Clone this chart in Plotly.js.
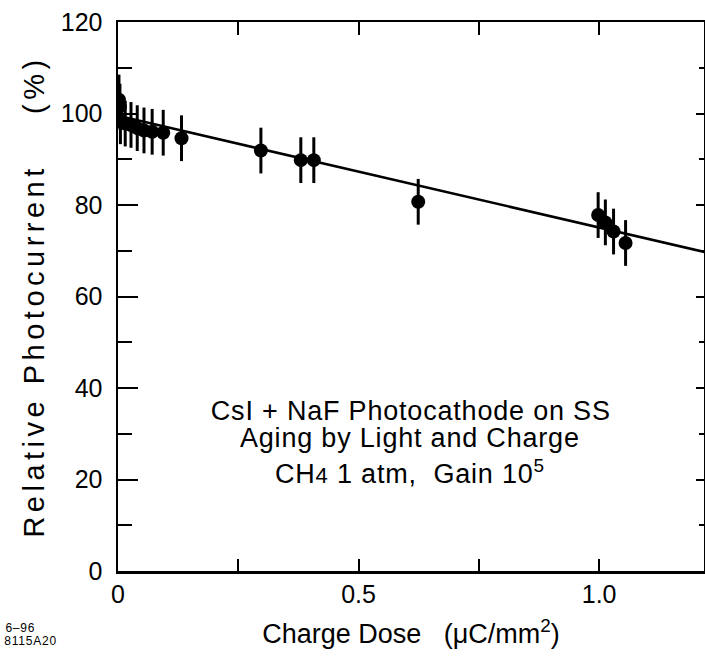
<!DOCTYPE html>
<html>
<head>
<meta charset="utf-8">
<script src="https://cdn.plot.ly/plotly-3.0.1.min.js"></script>
<style>
html,body{margin:0;padding:0;background:#fff;}
#chart{width:705px;height:664px;}
#chart .ytitle{letter-spacing:4.5px;}
#chart .annotation-text{letter-spacing:0.8px;}
</style>
</head>
<body>
<div id="chart"></div>
<script>
// Measured points: charge dose (uC/mm^2) vs relative photocurrent (%)
const doseValues = [0.002, 0.004, 0.005, 0.015, 0.027, 0.040, 0.054, 0.071, 0.094, 0.132, 0.297, 0.380, 0.407, 0.624, 0.998, 1.013, 1.030, 1.055];
const photocurrentValues = [103.0, 101.5, 98.3, 97.8, 97.5, 96.8, 96.3, 96.0, 95.8, 94.6, 91.9, 89.8, 89.8, 80.7, 77.8, 76.2, 74.2, 71.7];
const errorValues = [5.5, 5, 5, 5, 5, 5, 5, 5, 5, 5, 5, 5, 5, 5, 5, 5, 5, 5];
// Straight-line fit, end points
const fitDose = [0, 1.22];
const fitPhotocurrent = [99.5, 69.7];
// Tick labels
const xTickVals = [0, 0.5, 1.0];
const xTickText = ['0', '0.5', '1.0'];
const yTickVals = [0, 20, 40, 60, 80, 100, 120];
const yTickText = ['0', '20', '40', '60', '80', '100', '120'];

const FONT = 'Liberation Sans, Arial, Helvetica, sans-serif';

const traces = [
  {
    x: fitDose, y: fitPhotocurrent, type: 'scatter', mode: 'lines',
    line: {color: '#000', width: 2.5}, hoverinfo: 'skip', showlegend: false
  },
  {
    x: doseValues, y: photocurrentValues, type: 'scatter', mode: 'markers',
    marker: {color: '#000', size: 14, line: {width: 0}},
    error_y: {type: 'data', array: errorValues, visible: true, color: '#000', thickness: 3, width: 0},
    showlegend: false
  },
  // invisible trace to activate the mirror (top/right) axes
  {x: [0], y: [0], xaxis: 'x2', yaxis: 'y2', mode: 'markers', marker: {opacity: 0}, showlegend: false, hoverinfo: 'skip'}
];

const layout = {
  width: 705, height: 664,
  margin: {l: 118, r: 1, t: 22, b: 93},
  paper_bgcolor: '#fff', plot_bgcolor: '#fff',
  font: {family: FONT, color: '#000', size: 25},
  showlegend: false,
  xaxis: {
    range: [0, 1.218], showgrid: false, zeroline: false,
    showline: true, linecolor: '#000', linewidth: 2.5,
    ticks: 'inside', ticklen: 12, tickwidth: 2, tickcolor: '#000',
    tickvals: xTickVals, ticktext: xTickText,
    minor: {tickvals: [0.25, 0.75], ticks: 'inside', ticklen: 12, tickwidth: 2, tickcolor: '#000'},
    tickfont: {size: 25, family: FONT},
    ticklabelstandoff: -1,
    title: {text: 'Charge Dose   (μC/mm<sup>2</sup>)', font: {size: 27, family: FONT}, standoff: 18}
  },
  yaxis: {
    range: [0, 120], showgrid: false, zeroline: false,
    showline: true, linecolor: '#000', linewidth: 2.5,
    ticks: 'inside', ticklen: 20, tickwidth: 2, tickcolor: '#000',
    tickvals: yTickVals, ticktext: yTickText,
    minor: {dtick: 10, ticks: 'inside', ticklen: 14, tickwidth: 2, tickcolor: '#000'},
    tickfont: {size: 25, family: FONT},
    ticklabelstandoff: 8,
    title: {text: 'Relative Photocurrent    (%)', font: {size: 29, family: FONT}, standoff: 8}
  },
  xaxis2: {
    overlaying: 'x', side: 'top', range: [0, 1.218], showgrid: false, zeroline: false,
    showline: true, linecolor: '#000', linewidth: 2.5,
    ticks: 'inside', ticklen: 13, tickwidth: 2, tickcolor: '#000',
    tickvals: [0.25, 0.5, 0.75, 1.0], showticklabels: false
  },
  yaxis2: {
    overlaying: 'y', side: 'right', range: [0, 120], showgrid: false, zeroline: false,
    showline: true, linecolor: '#000', linewidth: 2.5,
    ticks: 'inside', ticklen: 8, tickwidth: 2, tickcolor: '#000',
    tickvals: [20, 40, 60, 80, 100], showticklabels: false,
    minor: {tickvals: [10, 30, 50, 70, 90, 110], ticks: 'inside', ticklen: 5, tickwidth: 2, tickcolor: '#000'}
  },
  annotations: [
    {x: 0.607, y: 35.0, xref: 'x', yref: 'y', text: 'CsI + NaF Photocathode on SS', showarrow: false, font: {size: 27, family: FONT}},
    {x: 0.607, y: 29.1, xref: 'x', yref: 'y', text: 'Aging by Light and Charge', showarrow: false, font: {size: 27, family: FONT}},
    {x: 0.607, y: 21.6, xref: 'x', yref: 'y', text: 'CH<span style="font-size:22px">4</span> 1 atm,  Gain 10<sup>5</sup>', showarrow: false, font: {size: 27, family: FONT}},
    {x: -0.193, y: -0.104, xref: 'paper', yref: 'paper', xanchor: 'left', yanchor: 'middle', text: '6–96', showarrow: false, font: {size: 12, family: FONT}},
    {x: -0.193, y: -0.127, xref: 'paper', yref: 'paper', xanchor: 'left', yanchor: 'middle', text: '8115A20', showarrow: false, font: {size: 12, family: FONT}}
  ]
};

Plotly.newPlot('chart', traces, layout, {displayModeBar: false, staticPlot: true});
</script>
</body>
</html>
